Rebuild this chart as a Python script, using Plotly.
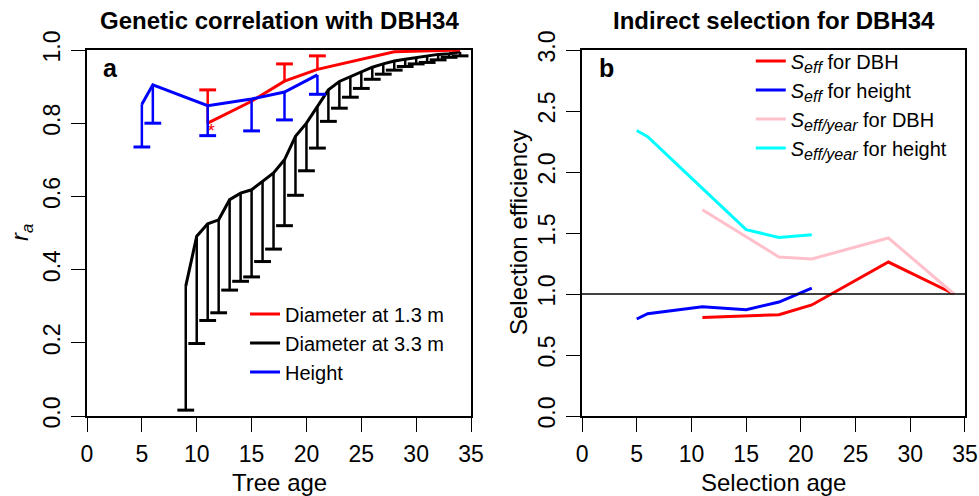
import plotly.graph_objects as go

# ---------------- data: panel a (genetic correlation with DBH34) ----------------
dbh13_age = [11, 15, 18, 21, 28, 34]
dbh13_ra = [0.80, 0.86, 0.915, 0.947, 0.995, 1.0]
dbh13_err_age = [11, 18, 21]
dbh13_err_top = [0.891, 0.962, 0.984]

dbh33_age = list(range(9, 35))
dbh33_ra = [0.355, 0.491, 0.525, 0.536, 0.591, 0.609, 0.618, 0.641, 0.664, 0.700,
            0.764, 0.800, 0.845, 0.891, 0.914, 0.927, 0.941, 0.953, 0.962, 0.970,
            0.975, 0.980, 0.985, 0.988, 0.990, 0.995]
dbh33_low = [0.016, 0.198, 0.261, 0.282, 0.344, 0.368, 0.380, 0.422, 0.456, 0.520,
             0.603, 0.670, 0.732, 0.805, 0.841, 0.871, 0.895, 0.920, 0.934, 0.945,
             0.955, 0.962, 0.966, 0.973, 0.980, 0.984]

height_age = [5, 6, 11, 15, 18, 21]
height_ra = [0.852, 0.905, 0.848, 0.866, 0.885, 0.932]
height_low = [0.735, 0.800, 0.766, 0.779, 0.809, 0.879]

signif_age = [11]
signif_ra = [0.80]

# ---------------- data: panel b (indirect selection for DBH34) ----------------
sel_age_dbh = [11, 15, 18, 21, 28, 34]
seff_dbh = [0.808, 0.820, 0.830, 0.910, 1.262, 1.000]
seff_year_dbh = [1.690, 1.470, 1.303, 1.287, 1.459, 1.000]

sel_age_height = [5, 6, 11, 15, 18, 21]
seff_height = [0.795, 0.838, 0.896, 0.871, 0.934, 1.049]
seff_year_height = [2.340, 2.290, 1.866, 1.527, 1.464, 1.486]

reference_efficiency = 1.0

x_ticks = [0, 5, 10, 15, 20, 25, 30, 35]
ya_ticks = [0.0, 0.2, 0.4, 0.6, 0.8, 1.0]
yb_ticks = [0.0, 0.5, 1.0, 1.5, 2.0, 2.5, 3.0]

FONT = "Liberation Sans, Arial, Helvetica, sans-serif"
RED, BLUE, BLACK, PINK, CYAN = "#FF0000", "#0000FF", "#000000", "#FFC0CB", "#00FFFF"


def segments(xs, y_from, y_to):
    sx, sy = [], []
    for xi, a, b in zip(xs, y_from, y_to):
        sx += [xi, xi, None]
        sy += [a, b, None]
    return sx, sy


def seff(sub):
    return "<i>S<sub><span style=\"font-size:16px\">" + sub + "</span></sub></i>"


fig = go.Figure()

# --- black: diameter at 3.3 m (drawn first) ---
sx, sy = segments(dbh33_age, dbh33_ra, dbh33_low)
fig.add_trace(go.Scatter(x=sx, y=sy, mode="lines", line=dict(color=BLACK, width=2.5),
                         showlegend=False, hoverinfo="skip", xaxis="x", yaxis="y"))
fig.add_trace(go.Scatter(x=dbh33_age, y=dbh33_low, mode="markers",
                         marker=dict(symbol="line-ew", size=12, line=dict(color=BLACK, width=3)),
                         showlegend=False, hoverinfo="skip", xaxis="x", yaxis="y"))
fig.add_trace(go.Scatter(x=dbh33_age, y=dbh33_ra, mode="lines", name="Diameter at 3.3 m",
                         line=dict(color=BLACK, width=3), legend="legend", legendrank=2,
                         xaxis="x", yaxis="y"))

# --- red: diameter at 1.3 m ---
err_base = [dbh13_ra[dbh13_age.index(a)] for a in dbh13_err_age]
sx, sy = segments(dbh13_err_age, err_base, dbh13_err_top)
fig.add_trace(go.Scatter(x=sx, y=sy, mode="lines", line=dict(color=RED, width=2.5),
                         showlegend=False, hoverinfo="skip", xaxis="x", yaxis="y"))
fig.add_trace(go.Scatter(x=dbh13_err_age, y=dbh13_err_top, mode="markers",
                         marker=dict(symbol="line-ew", size=12, line=dict(color=RED, width=3)),
                         showlegend=False, hoverinfo="skip", xaxis="x", yaxis="y"))
fig.add_trace(go.Scatter(x=dbh13_age, y=dbh13_ra, mode="lines", name="Diameter at 1.3 m",
                         line=dict(color=RED, width=3), legend="legend", legendrank=1,
                         xaxis="x", yaxis="y"))
fig.add_trace(go.Scatter(x=signif_age, y=signif_ra, mode="text", text=["*"],
                         textposition="bottom right",
                         textfont=dict(color=RED, size=18, family=FONT),
                         showlegend=False, hoverinfo="skip", xaxis="x", yaxis="y"))

# --- blue: height ---
sx, sy = segments(height_age, height_ra, height_low)
fig.add_trace(go.Scatter(x=sx, y=sy, mode="lines", line=dict(color=BLUE, width=2.5),
                         showlegend=False, hoverinfo="skip", xaxis="x", yaxis="y"))
fig.add_trace(go.Scatter(x=height_age, y=height_low, mode="markers",
                         marker=dict(symbol="line-ew", size=12, line=dict(color=BLUE, width=3)),
                         showlegend=False, hoverinfo="skip", xaxis="x", yaxis="y"))
fig.add_trace(go.Scatter(x=height_age, y=height_ra, mode="lines", name="Height",
                         line=dict(color=BLUE, width=3), legend="legend", legendrank=3,
                         xaxis="x", yaxis="y"))

# --- panel b ---
fig.add_trace(go.Scatter(x=sel_age_dbh, y=seff_dbh, mode="lines",
                         name=seff("eff") + " for DBH",
                         line=dict(color=RED, width=3), legend="legend2", legendrank=1,
                         xaxis="x2", yaxis="y2"))
fig.add_trace(go.Scatter(x=sel_age_height, y=seff_height, mode="lines",
                         name=seff("eff") + " for height",
                         line=dict(color=BLUE, width=3), legend="legend2", legendrank=2,
                         xaxis="x2", yaxis="y2"))
fig.add_trace(go.Scatter(x=sel_age_dbh, y=seff_year_dbh, mode="lines",
                         name=seff("eff/year") + " for DBH",
                         line=dict(color=PINK, width=3), legend="legend2", legendrank=3,
                         xaxis="x2", yaxis="y2"))
fig.add_trace(go.Scatter(x=sel_age_height, y=seff_year_height, mode="lines",
                         name=seff("eff/year") + " for height",
                         line=dict(color=CYAN, width=3), legend="legend2", legendrank=4,
                         xaxis="x2", yaxis="y2"))

fig.add_shape(type="line", xref="x2 domain", yref="y2", x0=0, x1=1,
              y0=reference_efficiency, y1=reference_efficiency,
              line=dict(color=BLACK, width=1.3), layer="above")

axis_common = dict(showline=True, mirror=True, linecolor=BLACK, linewidth=1.5,
                   ticks="outside", ticklen=14, tickwidth=1, tickcolor=BLACK,
                   showgrid=False, zeroline=False, automargin=False,
                   tickfont=dict(family=FONT, size=23, color=BLACK))

fig.update_layout(
    width=979, height=496,
    margin=dict(l=87, r=14, t=50, b=80, autoexpand=False),
    paper_bgcolor="white", plot_bgcolor="white",
    font=dict(family=FONT, color=BLACK),
    xaxis=dict(domain=[0, 0.4374], range=[0, 35], tickvals=x_ticks, anchor="y",
               ticklabelstandoff=3, **axis_common),
    yaxis=dict(domain=[0, 1], range=[0, 1], tickvals=ya_ticks, tickformat=".1f",
               tickangle=-90, anchor="x", ticklabelstandoff=2, **axis_common),
    xaxis2=dict(domain=[0.5638, 1], range=[0, 35], tickvals=x_ticks, anchor="y2",
                ticklabelstandoff=3, **axis_common),
    yaxis2=dict(domain=[0, 1], range=[0, 3], tickvals=yb_ticks, tickformat=".1f",
                tickangle=-90, anchor="x2", ticklabelstandoff=2, **axis_common),
    legend=dict(x=0.18, y=0.332, xanchor="left", yanchor="top",
                bgcolor="rgba(0,0,0,0)", font=dict(family=FONT, size=20, color=BLACK),
                tracegroupgap=0),
    legend2=dict(x=0.756, y=1.023, xanchor="left", yanchor="top",
                 bgcolor="rgba(0,0,0,0)", font=dict(family=FONT, size=20, color=BLACK),
                 tracegroupgap=0),
    showlegend=True,
)

ann = []
# titles
ann.append(dict(text="<b>Genetic correlation with DBH34</b>", xref="x domain", yref="paper",
                x=0.5, y=1, yshift=30, xanchor="center", yanchor="middle", showarrow=False,
                font=dict(family=FONT, size=24, color=BLACK)))
ann.append(dict(text="<b>Indirect selection for DBH34</b>", xref="x2 domain", yref="paper",
                x=0.5, y=1, yshift=30, xanchor="center", yanchor="middle", showarrow=False,
                font=dict(family=FONT, size=24, color=BLACK)))
# panel letters
ann.append(dict(text="<b>a</b>", xref="x domain", yref="y domain", x=0, y=1, xshift=23,
                yshift=-18, xanchor="center", yanchor="middle", showarrow=False,
                font=dict(family=FONT, size=25, color=BLACK)))
ann.append(dict(text="<b>b</b>", xref="x2 domain", yref="y2 domain", x=0, y=1, xshift=24,
                yshift=-18, xanchor="center", yanchor="middle", showarrow=False,
                font=dict(family=FONT, size=25, color=BLACK)))
# axis titles
ann.append(dict(text="Tree age", xref="x domain", yref="paper", x=0.5, y=0, yshift=-66,
                xanchor="center", yanchor="middle", showarrow=False,
                font=dict(family=FONT, size=24, color=BLACK)))
ann.append(dict(text="Selection age", xref="x2 domain", yref="paper", x=0.5, y=0, yshift=-66,
                xanchor="center", yanchor="middle", showarrow=False,
                font=dict(family=FONT, size=24, color=BLACK)))
ann.append(dict(text="<i>r<sub>a</sub></i>", xref="x domain", yref="paper", x=0, y=0.5,
                xshift=-66, xanchor="center", yanchor="middle", textangle=-90, showarrow=False,
                font=dict(family=FONT, size=24, color=BLACK)))
ann.append(dict(text="Selection efficiency", xref="x2 domain", yref="paper", x=0, y=0.5,
                xshift=-64, xanchor="center", yanchor="middle", textangle=-90, showarrow=False,
                font=dict(family=FONT, size=24, color=BLACK)))
fig.update_layout(annotations=ann)

fig.write_html("out.html",
               config={"displayModeBar": False},
               post_script="document.body.style.margin='0';document.body.style.padding='0';"
                           "document.documentElement.style.overflow='hidden';")
